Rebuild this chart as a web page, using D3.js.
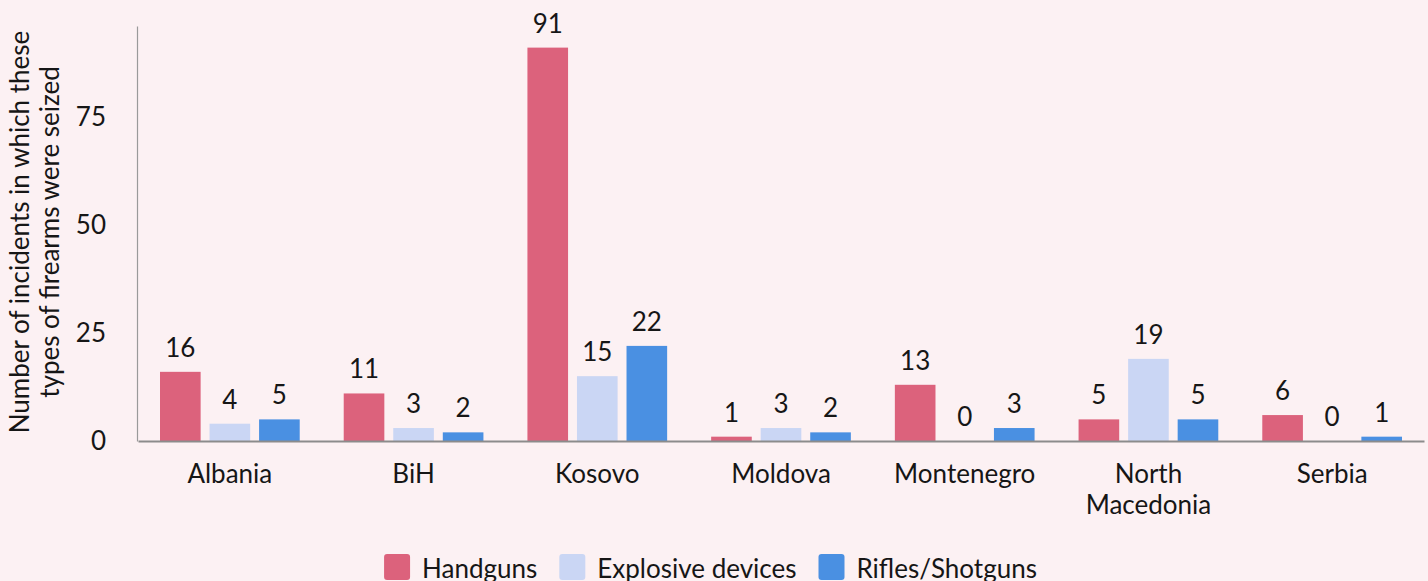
<!DOCTYPE html>
<html>
<head>
<meta charset="utf-8">
<script src="https://cdn.jsdelivr.net/npm/d3@7"></script>
<style>
  html, body { margin: 0; padding: 0; background: #fcf1f3; }
  svg { display: block; font-family: Lato, "Noto Sans", sans-serif; }
  .labels { font-size: 26px; fill: #161616; }
  .axis text { font-size: 26px; fill: #161616; font-family: Lato, "Noto Sans", sans-serif; }
</style>
</head>
<body>
<div id="graf1"></div>
<script>
// datos del grafico
const paises = ["Albania", "BiH", "Kosovo", "Moldova", "Montenegro", "North Macedonia", "Serbia"];
const series = ["Handguns", "Explosive devices", "Rifles/Shotguns"];
const handguns = [16, 11, 91, 1, 13, 5, 6];
const explosivos = [4, 3, 15, 3, 0, 19, 0];
const rifles = [5, 2, 22, 2, 3, 5, 1];
const yTicks = [0, 25, 50, 75];
const colores = ["#dc627c", "#cad6f4", "#4a90e2"];

const valores = [handguns, explosivos, rifles];
const datos = paises.map((p, i) => ({
  pais: p,
  barras: series.map((s, j) => ({ serie: s, valor: valores[j][i] }))
}));

const ancho = 1428;
const alto = 581;

const svg = d3.select("#graf1")
  .append("svg")
  .attr("width", ancho)
  .attr("height", alto);

// escalas
const x0 = d3.scaleBand().domain(paises).range([138, 1424]).padding(0);
const x1 = d3.scaleBand().domain(series).range([22, x0.bandwidth() - 22]).paddingInner(0.18);
const y = d3.scaleLinear().domain([0, 96]).range([441, 26]);
const color = d3.scaleOrdinal().domain(series).range(colores);

// eje y
const ejeY = svg.append("g")
  .attr("class", "axis")
  .attr("transform", "translate(137,0)")
  .call(d3.axisLeft(y).tickValues(yTicks).tickSize(0).tickPadding(31).tickSizeOuter(0));
ejeY.select(".domain").attr("stroke", "#9a9a9a").attr("stroke-width", 1.2);

// titulo eje y
const tituloY = svg.append("text")
  .attr("class", "labels")
  .attr("text-anchor", "middle")
  .attr("transform", "translate(29,232) rotate(-90)");
tituloY.append("tspan").attr("x", 0).attr("dy", 0).text("Number of incidents in which these");
tituloY.append("tspan").attr("x", 0).attr("dy", 30).text("types of firearms were seized");

// barras
const grupos = svg.selectAll(".grupo")
  .data(datos)
  .enter()
  .append("g")
  .attr("class", "grupo")
  .attr("transform", (d) => `translate(${x0(d.pais)},0)`);

grupos.selectAll("rect")
  .data((d) => d.barras)
  .enter()
  .append("rect")
  .attr("x", (d) => x1(d.serie))
  .attr("y", (d) => y(d.valor))
  .attr("width", x1.bandwidth())
  .attr("height", (d) => y(0) - y(d.valor))
  .attr("fill", (d) => color(d.serie));

grupos.selectAll(".valor")
  .data((d) => d.barras)
  .enter()
  .append("text")
  .attr("class", "labels valor")
  .attr("text-anchor", "middle")
  .attr("x", (d) => x1(d.serie) + x1.bandwidth() / 2)
  .attr("y", (d) => y(d.valor) - 15)
  .text((d) => d.valor);

// eje x
const ejeX = svg.append("g")
  .attr("class", "axis")
  .attr("transform", `translate(0,${y(0)})`)
  .call(d3.axisBottom(x0).tickSize(0).tickPadding(0).tickSizeOuter(0));
ejeX.select(".domain").attr("stroke", "#8c8c8c").attr("stroke-width", 2);

// etiquetas en varias lineas si no caben
ejeX.selectAll(".tick text").each(function (d) {
  const t = d3.select(this);
  t.text(null).attr("y", 0).attr("dy", null);
  const palabras = d.split(" ");
  const lineas = d.length > 12 ? palabras : [d];
  lineas.forEach((l, i) => {
    t.append("tspan").attr("x", 0).attr("y", 42 + i * 31).text(l);
  });
});

// leyenda
const leyenda = svg.append("g");
let pos = 0;
series.forEach((s, i) => {
  const item = leyenda.append("g").attr("transform", `translate(${pos},0)`);
  item.append("rect")
    .attr("x", 0).attr("y", 554)
    .attr("width", 26).attr("height", 26)
    .attr("rx", 3)
    .attr("fill", color(s));
  const txt = item.append("text")
    .attr("class", "labels")
    .attr("x", 38).attr("y", 578)
    .text(s);
  pos += 38 + txt.node().getComputedTextLength() + 22;
});
const anchoLeyenda = pos - 22;
leyenda.attr("transform", `translate(${710.5 - anchoLeyenda / 2},0)`);
</script>
</body>
</html>
